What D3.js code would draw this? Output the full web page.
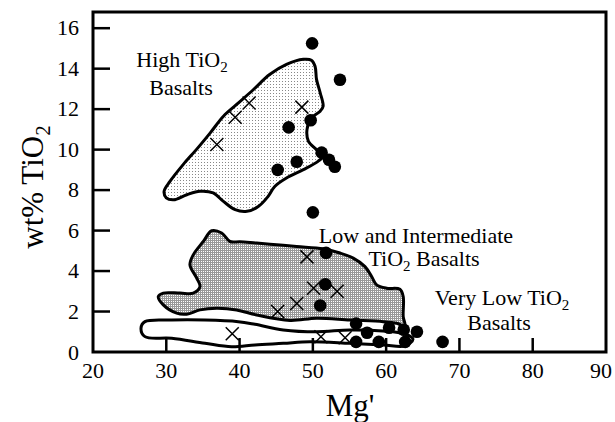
<!DOCTYPE html>
<html><head><meta charset="utf-8">
<script src="https://cdn.jsdelivr.net/npm/d3@7"></script>
<style>body{margin:0;background:#fff} text{font-family:"Liberation Serif","Times New Roman",serif;}</style>
</head><body>
<svg id="c" width="615" height="422"></svg>
<script>
const xTicks=[20,30,40,50,60,70,80,90];
const yTicks=[0,2,4,6,8,10,12,14,16];
// filled circles
const dotMg=[49.9,53.7,49.7,46.7,51.2,52.2,53.0,47.8,45.2,50.0,51.8,51.7,51.0,55.9,57.4,60.4,62.4,64.2,55.9,59.0,62.6,67.7];
const dotTi=[15.25,13.45,11.45,11.1,9.85,9.5,9.15,9.4,9.0,6.9,4.9,3.35,2.3,1.4,0.95,1.2,1.1,1.0,0.5,0.5,0.5,0.5];
// crosses
const crossMg=[36.9,39.4,41.3,48.5,49.2,50.1,53.3,47.8,45.2,39.0,51.1,54.4];
const crossTi=[10.25,11.6,12.3,12.1,4.7,3.15,3.0,2.4,2.0,0.9,0.75,0.7];
// field outlines [Mg', TiO2]
const highField=[[30.0,7.62],[29.7,7.94],[30.5,8.43],[32.3,9.26],[34.1,10.0],[36.0,10.83],[37.8,11.65],[39.6,12.23],[41.9,12.97],[44.1,13.71],[46.4,14.21],[48.7,14.46],[49.8,14.42],[50.3,14.12],[50.5,13.47],[51.0,12.81],[51.4,12.14],[51.0,11.9],[49.8,11.57],[49.2,10.99],[49.4,10.41],[50.5,10.0],[51.4,9.67],[50.7,9.42],[48.7,9.01],[46.4,8.6],[44.8,8.18],[43.9,7.69],[42.55,7.19],[41.0,6.95],[39.4,7.03],[37.8,7.44],[36.4,7.86],[34.6,7.94],[32.8,7.77],[31.0,7.52]];
const lowField=[[36.2,5.99],[37.56,5.88],[38.69,5.46],[40.05,5.45],[42.33,5.38],[45.06,5.30],[47.79,5.21],[51.42,5.10],[53.7,4.89],[55.51,4.64],[57.11,4.22],[58.02,3.73],[58.7,3.32],[60.07,3.15],[61.88,3.10],[62.33,2.74],[62.33,1.75],[62.56,1.29],[61.43,1.42],[59.6,1.50],[55.06,1.58],[50.52,1.67],[46.88,1.56],[42.33,1.83],[39.6,2.08],[36.88,2.16],[34.6,2.08],[32.78,1.87],[31.42,1.92],[29.59,2.33],[28.91,2.74],[29.59,2.91],[31.87,2.91],[33.68,2.91],[34.6,3.23],[34.15,3.65],[33.23,4.31],[33.68,4.8],[35.05,5.46]];
const veryLowField=[[27.09,1.5],[30.74,1.58],[35.28,1.58],[39.82,1.5],[42.1,1.37],[45.96,1.09],[50.52,1.0],[55.06,1.09],[59.56,1.04],[62.56,0.89],[63.66,0.64],[62.56,0.3],[59.6,0.35],[55.06,0.43],[49.6,0.51],[45.96,0.43],[42.1,0.35],[38.92,0.26],[35.28,0.43],[30.74,0.68],[27.09,0.76],[26.55,1.17]];

const svg=d3.select('#c');
const x=d3.scaleLinear().domain([20,90]).range([93,606]);
const y=d3.scaleLinear().domain([0,16.8]).range([352,12]);

const defs=svg.append('defs');
const p1=defs.append('pattern').attr('id','stip').attr('width',3).attr('height',3).attr('patternUnits','userSpaceOnUse');
p1.append('rect').attr('width',3).attr('height',3).attr('fill','#fff');
p1.append('rect').attr('width',1).attr('height',1).attr('fill','#888');
const p2=defs.append('pattern').attr('id','grid').attr('width',2).attr('height',2).attr('patternUnits','userSpaceOnUse');
p2.append('rect').attr('width',2).attr('height',2).attr('fill','#fff');
p2.append('rect').attr('width',2).attr('height',1).attr('fill','#999');
p2.append('rect').attr('width',1).attr('height',2).attr('fill','#999');

const line=d3.line().x(d=>x(d[0])).y(d=>y(d[1])).curve(d3.curveCatmullRomClosed.alpha(0.5));
svg.append('path').attr('d',line(highField)).attr('fill','url(#stip)').attr('stroke','#000').attr('stroke-width',3);
svg.append('path').attr('d',line(lowField)).attr('fill','url(#grid)').attr('stroke','#000').attr('stroke-width',3);
svg.append('path').attr('d',line(veryLowField)).attr('fill','#fff').attr('stroke','#000').attr('stroke-width',3);

// ticks (inward)
svg.append('g').selectAll('line').data(xTicks.slice(1,-1)).join('line')
 .attr('x1',d=>x(d)).attr('x2',d=>x(d)).attr('y1',352).attr('y2',338)
 .attr('stroke','#000').attr('stroke-width',2.5);
svg.append('g').selectAll('line').data(yTicks.slice(1)).join('line')
 .attr('x1',93).attr('x2',110).attr('y1',d=>y(d)).attr('y2',d=>y(d))
 .attr('stroke','#000').attr('stroke-width',2.5);

// markers
const dots=dotMg.map((m,i)=>[m,dotTi[i]]);
svg.append('g').selectAll('circle').data(dots).join('circle')
 .attr('cx',d=>x(d[0])).attr('cy',d=>y(d[1])).attr('r',6.3).attr('fill','#000');
const crosses=crossMg.map((m,i)=>[m,crossTi[i]]);
const s=6.5;
svg.append('g').selectAll('path').data(crosses).join('path')
 .attr('d',d=>{const cx=x(d[0]),cy=y(d[1]);return `M${cx-s},${cy-s}L${cx+s},${cy+s}M${cx-s},${cy+s}L${cx+s},${cy-s}`;})
 .attr('stroke','#000').attr('stroke-width',1.5).attr('fill','none');

// frame
svg.append('rect').attr('x',93).attr('y',12).attr('width',513).attr('height',340)
 .attr('fill','none').attr('stroke','#000').attr('stroke-width',3);

// tick labels
svg.append('g').selectAll('text').data(xTicks).join('text')
 .attr('x',d=>x(d)).attr('dx',(d,i)=>i===xTicks.length-1?-5:0).attr('y',378).attr('text-anchor','middle')
 .attr('font-size',22).text(d=>d);
svg.append('g').selectAll('text').data(yTicks).join('text')
 .attr('x',79).attr('y',d=>d===0?360:y(d)+7).attr('text-anchor','end')
 .attr('font-size',22).text(d=>d);

// axis titles
svg.append('text').attr('x',350).attr('y',416).attr('text-anchor','middle')
 .attr('font-size',31).text("Mg'");
const yt=svg.append('text').attr('transform','translate(43,187) rotate(-90)').attr('text-anchor','middle')
 .attr('font-size',31);
yt.append('tspan').text('wt% TiO');
yt.append('tspan').attr('font-size',21).attr('dy',7).text('2');

function label(cx,cy,parts){
  const t=svg.append('text').attr('x',cx).attr('y',cy).attr('text-anchor','middle')
   .attr('font-size',22);
  let sub=false;
  parts.forEach(p=>{
    if(p==='2'){t.append('tspan').attr('font-size',15).attr('dy',5).text('2');sub=true;}
    else{t.append('tspan').attr('dy',sub?-5:0).text(p);sub=false;}
  });
}
label(182,67,['High TiO','2']);
label(181,95,['Basalts']);
label(416,243,['Low and Intermediate']);
label(424,266,['TiO','2',' Basalts']);
label(502,305,['Very Low TiO','2']);
label(499,330,['Basalts']);
</script>
</body></html>
